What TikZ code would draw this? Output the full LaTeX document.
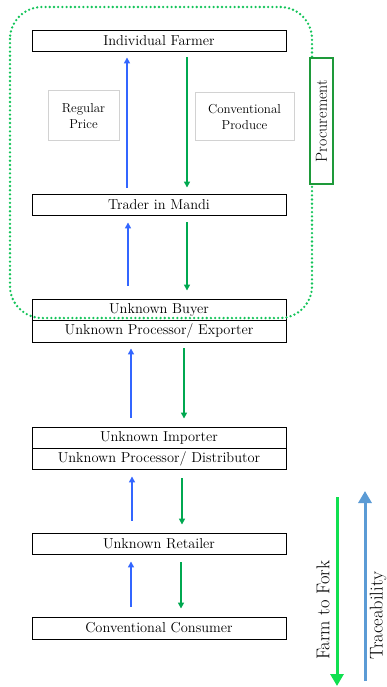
\documentclass[tikz,border=0pt]{standalone}
\usetikzlibrary{arrows.meta}
\definecolor{arrblue}{HTML}{3366FF}
\definecolor{arrgreen}{HTML}{00A850}
\definecolor{dotgreen}{HTML}{14C45A}
\definecolor{procgreen}{HTML}{1E9A3A}
\definecolor{ftfgreen}{HTML}{10E050}
\definecolor{tracblue}{HTML}{5B9BD5}
\definecolor{txt}{HTML}{000000}
\tikzset{
  chainbox/.style={draw=black, line width=0.9pt, minimum width=254pt, inner sep=0pt, text=txt, font=\fontsize{14.4}{16}\selectfont},
  notebox/.style={draw=gray!35, line width=1pt, inner sep=0pt, align=center, text=txt, font=\fontsize{13}{16}\selectfont},
  uparr/.style={draw=arrblue, line width=1.6pt, -{Triangle[length=6pt,width=6pt]}},
  downarr/.style={draw=arrgreen, line width=1.6pt, -{Triangle[length=6pt,width=6pt]}},
  biglabel/.style={rotate=90, anchor=west, inner sep=0pt, text=txt, font=\fontsize{18.5}{20}\selectfont}
}
\begin{document}
\begin{tikzpicture}[x=1pt,y=-1pt]
\useasboundingbox (0,0) rectangle (387,687);
% chain boxes
\node[chainbox, minimum height=21pt] (farmer) at (159,40.5) {Individual Farmer};
\node[chainbox, minimum height=21pt] (trader) at (159,204.5) {Trader in Mandi};
\node[chainbox, minimum height=21pt] (buyer) at (159,309.5) {Unknown Buyer};
\node[chainbox, minimum height=22pt] (exporter) at (159,331) {Unknown Processor/ Exporter};
\node[chainbox, minimum height=21pt] (importer) at (159,437.5) {Unknown Importer};
\node[chainbox, minimum height=21pt] (distributor) at (159,458.5) {Unknown Processor/ Distributor};
\node[chainbox, minimum height=21pt] (retailer) at (159,543.5) {Unknown Retailer};
\node[chainbox, minimum height=22pt] (consumer) at (159,628) {Conventional Consumer};
% notes
\node[notebox, minimum width=71pt, minimum height=50pt] (price) at (83.5,116) {Regular\\Price};
\node[notebox, minimum width=99pt, minimum height=48pt] (produce) at (244.5,117) {Conventional\\Produce};
% arrows farmer-trader
\draw[uparr, shorten <=6pt, shorten >=6pt] ([xshift=-32pt]trader.north) -- ([xshift=-32pt]farmer.south);
\draw[downarr, shorten <=6pt, shorten >=6pt] ([xshift=28pt]farmer.south) -- ([xshift=28pt]trader.north);
% trader-buyer
\draw[uparr, shorten <=13pt, shorten >=7pt] ([xshift=-31pt]buyer.north) -- ([xshift=-31pt]trader.south);
\draw[downarr, shorten <=7pt, shorten >=8pt] ([xshift=28pt]trader.south) -- ([xshift=28pt]buyer.north);
% exporter-importer
\draw[uparr, shorten <=9pt, shorten >=6pt] ([xshift=-28pt]importer.north) -- ([xshift=-28pt]exporter.south);
\draw[downarr, shorten <=6pt, shorten >=8pt] ([xshift=25pt]exporter.south) -- ([xshift=25pt]importer.north);
% distributor-retailer
\draw[uparr, shorten <=12pt, shorten >=7pt] ([xshift=-27pt]retailer.north) -- ([xshift=-27pt]distributor.south);
\draw[downarr, shorten <=9pt, shorten >=8pt] ([xshift=23pt]distributor.south) -- ([xshift=23pt]retailer.north);
% retailer-consumer
\draw[uparr, shorten <=10pt, shorten >=7pt] ([xshift=-28pt]consumer.north) -- ([xshift=-28pt]retailer.south);
\draw[downarr, shorten <=8pt, shorten >=8pt] ([xshift=22pt]retailer.south) -- ([xshift=22pt]consumer.north);
% procurement dotted region
\draw[dotgreen, line width=2.6pt, dash pattern=on 0pt off 4.2pt, line cap=round, rounded corners=32pt] (10,7) rectangle (312,318);
\node[draw=procgreen, fill=white, line width=1.3pt, rotate=90, minimum width=126pt, minimum height=23pt, inner sep=0pt, text=txt, font=\fontsize{16}{18}\selectfont] (proc) at (321.5,121) {Procurement};
% farm to fork / traceability
\coordinate (ftfS) at (337,497);
\coordinate (ftfE) at (337,686);
\coordinate (trS) at (365,681);
\coordinate (trE) at (365,491);
\draw[ftfgreen, line width=3pt, -{Triangle[length=12pt,width=13pt]}] (ftfS) -- (ftfE);
\draw[tracblue, line width=3pt, -{Triangle[length=12pt,width=13pt]}] (trS) -- (trE);
\node[biglabel] (ftf) at (323,660) {Farm to Fork};
\node[biglabel] (trace) at (378,660) {Traceability};
\end{tikzpicture}
\end{document}
